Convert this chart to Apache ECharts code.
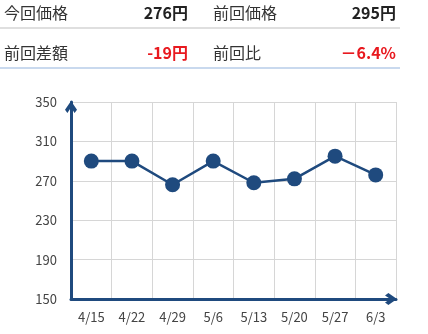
<!DOCTYPE html>
<html><head><meta charset="utf-8">
<script src="https://cdn.jsdelivr.net/npm/echarts@6/dist/echarts.min.js"></script>
<style>html,body{margin:0;padding:0;background:#fff}#c{width:428px;height:334px}</style>
</head><body><div id="c"></div>
<script>
const categories = ['4/15','4/22','4/29','5/6','5/13','5/20','5/27','6/3'];
const prices = [290, 290, 266, 290, 268, 272, 295, 276];
const yTicks = [150, 190, 230, 270, 310, 350];
const headerLabels = ['今回価格', '前回価格', '前回差額', '前回比'];
const headerValues = ['276円', '295円', '-19円', '－6.4%'];

const navy = '#1f4a7e';
const chevron = 'path://M0,72 L50,0 L100,72 L80,100 L50,55 L20,100 Z';
const font = '"Noto Sans CJK JP", "Noto Sans", sans-serif';

const chart = echarts.init(document.getElementById('c'));
const g = [];
const cols = [[4, 188], [213, 396]];
const rowsY = [15, 55];
for (let i = 0; i < 4; i++) {
  const r = Math.floor(i / 2), c = i % 2;
  g.push({type:'text', left: cols[c][0], top: rowsY[r] - 10,
    style:{text: headerLabels[i], font: '16px ' + font, fill:'#333'}});
  g.push({type:'text', right: 428 - cols[c][1], top: rowsY[r] - 10,
    style:{text: headerValues[i], font: 'bold 16px ' + font, fill: r === 1 ? '#e8191f' : '#222', textAlign:'right'}});
}
g.push({type:'line', shape:{x1:0,y1:28,x2:400,y2:28}, style:{stroke:'#d4d4d4', lineWidth:1.5}});
g.push({type:'line', shape:{x1:0,y1:68,x2:400,y2:68}, style:{stroke:'#b7cde9', lineWidth:1.5}});

const axisLineCfg = {show:true, lineStyle:{color:navy, width:3}, symbol:['none', chevron], symbolSize:[16,12], symbolOffset:[0,-5]};

chart.setOption({
  animation:false,
  graphic: g,
  grid:{left:71, right:32, top:102, bottom:35},
  xAxis:{type:'category', data:categories, boundaryGap:true,
    axisLine:axisLineCfg,
    axisTick:{show:false},
    axisLabel:{color:'#444', fontSize:13, fontFamily:font, margin:12},
    splitLine:{show:true, lineStyle:{color:'#d6d6d6', width:1}}},
  yAxis:{type:'value', min:yTicks[0], max:yTicks[yTicks.length-1], interval:yTicks[1]-yTicks[0],
    axisLine:axisLineCfg,
    axisTick:{show:false},
    axisLabel:{color:'#444', fontSize:13, fontFamily:font, margin:14},
    splitLine:{show:true, lineStyle:{color:'#d6d6d6', width:1}}},
  series:[{type:'line', data:prices, symbol:'circle', symbolSize:15,
    lineStyle:{color:navy, width:2.5}, itemStyle:{color:navy}}]
});
</script></body></html>
